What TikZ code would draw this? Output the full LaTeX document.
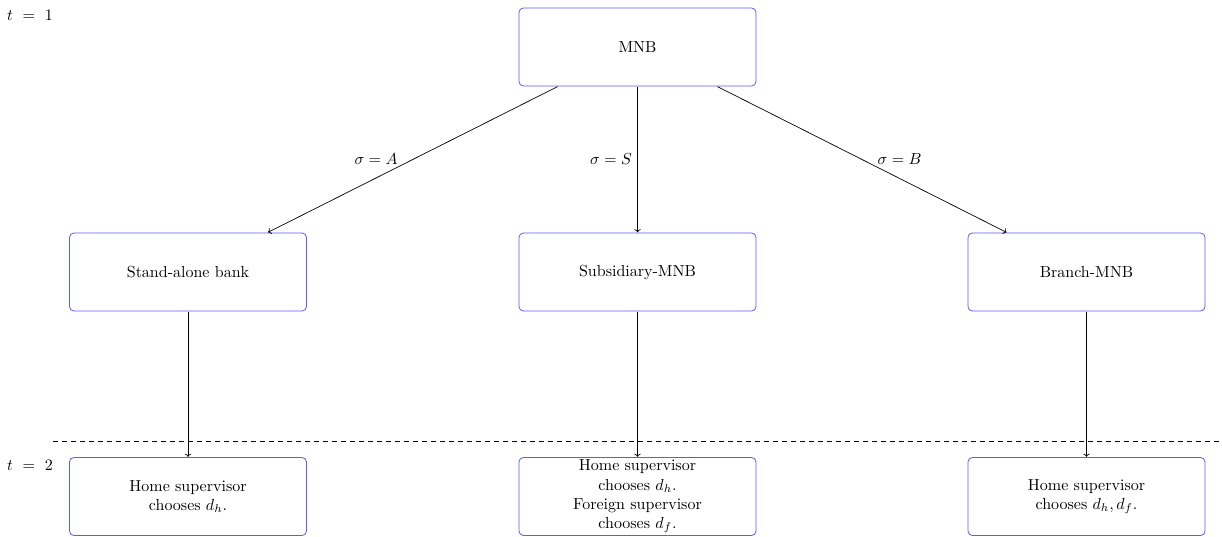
\documentclass[tikz,border=0pt]{standalone}
\usetikzlibrary{arrows.meta}
\begin{document}
\begin{tikzpicture}[x=1pt,y=-1pt,
  every node/.style={scale=1.6},
  box/.style={draw=blue!65, rounded corners=4.4pt, minimum width=148.1pt, minimum height=48.75pt, align=center, inner sep=1pt, line width=0.8pt},
  arr/.style={->, line width=0.7pt},
  lbl/.style={inner sep=1pt}]
\useasboundingbox (0,0) rectangle (1222,537);
\node[box] (mnb) at (637.5,47) {MNB};
\node[box] (sa) at (188,272) {Stand-alone bank};
\node[box] (sub) at (637.5,272) {Subsidiary-MNB};
\node[box] (br) at (1086.5,272) {Branch-MNB};
\node[box] (h1) at (188,496.5) {Home supervisor\\chooses $d_h$.};
\node[box] (h2) at (637.5,496.5) {Home supervisor\\chooses $d_h$.\\Foreign supervisor\\chooses $d_f$.};
\node[box] (h3) at (1086.5,496.5) {Home supervisor\\chooses $d_h, d_f$.};
\draw[arr] ([xshift=-80pt]mnb.south) -- node[lbl, pos=0.5, anchor=east, xshift=-8.1pt] {$\sigma = A$} ([xshift=80pt]sa.north);
\draw[arr] (mnb.south) -- node[lbl, pos=0.5, anchor=east, xshift=-2.2pt] {$\sigma = S$} (sub.north);
\draw[arr] ([xshift=80pt]mnb.south) -- node[lbl, pos=0.5, anchor=west, xshift=8.4pt] {$\sigma = B$} ([xshift=-80pt]br.north);
\draw[arr] (sa.south) -- (h1.north);
\draw[arr] (sub.south) -- (h2.north);
\draw[arr] (br.south) -- (h3.north);
\coordinate (dl) at (53,441);
\coordinate (dr) at (1222,441);
\draw[dashed, line width=0.7pt, dash pattern=on 5pt off 4pt] (dl) -- (dr);
\node (t1) at (30,15) {$t\ =\ 1$};
\node (t2) at (30,465) {$t\ =\ 2$};
\end{tikzpicture}
\end{document}
